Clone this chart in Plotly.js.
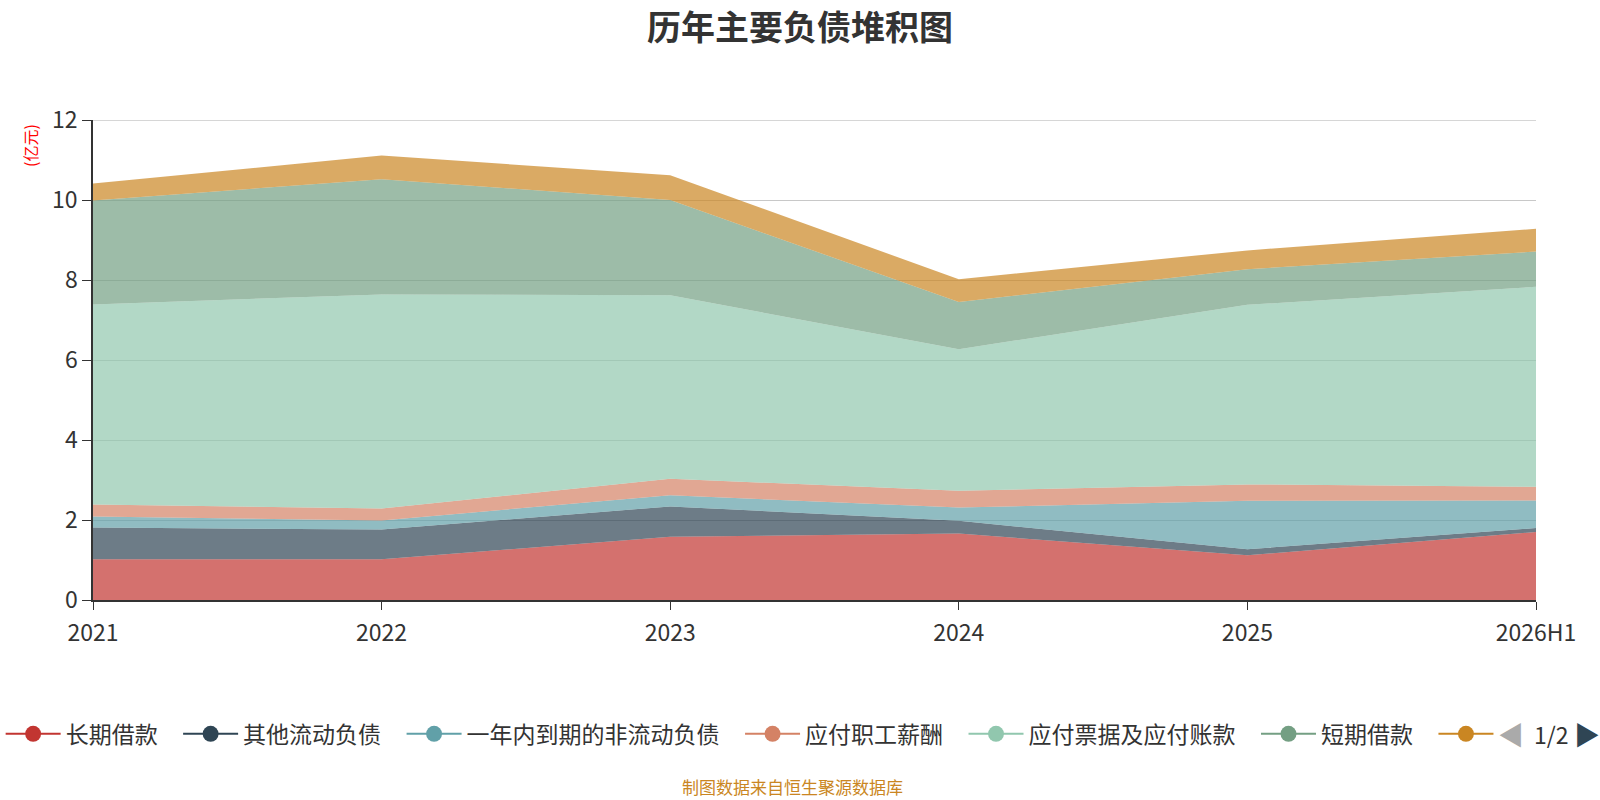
<!DOCTYPE html>
<html>
<head>
<meta charset="utf-8">
<script src="https://cdn.plot.ly/plotly-3.0.1.min.js"></script>
<style>
  html, body { margin: 0; padding: 0; background: #fff; }
  #chart { width: 1600px; height: 800px; }
</style>
</head>
<body>
<div id="chart"></div>
<script>
// 年份
var years = ['2021', '2022', '2023', '2024', '2025', '2026H1'];

// 各项负债（亿元），按堆积顺序
var changqiJiekuan    = [1.02, 1.02, 1.58, 1.66, 1.12, 1.70];
var qitaLiudong       = [0.79, 0.74, 0.76, 0.32, 0.15, 0.10];
var yinianDaoqi       = [0.28, 0.23, 0.28, 0.33, 1.21, 0.69];
var yingfuXinchou     = [0.30, 0.30, 0.41, 0.42, 0.41, 0.34];
var yingfuPiaoju      = [5.00, 5.35, 4.59, 3.54, 4.49, 5.00];
var duanqiJiekuan     = [2.60, 2.88, 2.38, 1.18, 0.89, 0.88];
var qitaFuzhai        = [0.42, 0.59, 0.62, 0.57, 0.47, 0.57];

var names = ['长期借款', '其他流动负债', '一年内到期的非流动负债', '应付职工薪酬',
             '应付票据及应付账款', '短期借款', ' '];
var colors = ['#c23531', '#2f4554', '#61a0a8', '#d48265', '#91c7ae', '#749f83', '#ca8622'];
var series = [changqiJiekuan, qitaLiudong, yinianDaoqi, yingfuXinchou,
              yingfuPiaoju, duanqiJiekuan, qitaFuzhai];

function fade(hex, a) {
  var r = parseInt(hex.slice(1, 3), 16), g = parseInt(hex.slice(3, 5), 16), b = parseInt(hex.slice(5, 7), 16);
  return 'rgba(' + r + ',' + g + ',' + b + ',' + a + ')';
}

var data = [];
// 面积
for (var i = 0; i < series.length; i++) {
  data.push({
    x: years,
    y: series[i],
    name: names[i],
    type: 'scatter',
    mode: 'lines',
    stackgroup: 'fz',
    line: { width: 0, color: colors[i] },
    fillcolor: fade(colors[i], 0.7),
    showlegend: false,
    hoverinfo: 'x+y+name'
  });
}
// 图例（名字后面补空格拉开间距）
for (var j = 0; j < series.length; j++) {
  data.push({
    x: [null],
    y: [null],
    name: names[j] + '\u00a0\u00a0\u00a0',
    type: 'scatter',
    mode: 'lines+markers',
    line: { width: 2, color: colors[j] },
    marker: { size: 22, color: colors[j] },
    showlegend: true
  });
}

var font = '"Noto Sans CJK SC", "Microsoft YaHei", sans-serif';

function note(text, x, y, size, color, extra) {
  var a = {
    text: text, xref: 'paper', yref: 'paper', x: x, y: y,
    xanchor: 'center', yanchor: 'middle',
    showarrow: false, font: { size: size, color: color, family: font }
  };
  for (var k in extra) a[k] = extra[k];
  return a;
}

var layout = {
  width: 1600,
  height: 800,
  margin: { l: 93, r: 64, t: 120, b: 200, autoexpand: false },
  paper_bgcolor: '#fff',
  plot_bgcolor: '#fff',
  font: { family: font, color: '#333' },
  title: {
    text: '<b>历年主要负债堆积图</b>',
    font: { size: 34, color: '#333', family: font },
    x: 0.5, xanchor: 'center',
    y: 0.965, yanchor: 'middle', yref: 'container'
  },
  xaxis: {
    type: 'category',
    range: [0, 5],
    showgrid: false,
    showline: true,
    linecolor: '#333',
    linewidth: 1.5,
    ticks: 'outside',
    ticklen: 8,
    tickcolor: '#333',
    ticklabelstandoff: 4,
    tickfont: { size: 23, color: '#333' },
    fixedrange: true
  },
  yaxis: {
    range: [0, 12],
    tickvals: [0, 2, 4, 6, 8, 10, 12],
    showgrid: true,
    gridcolor: '#c8c8c8',
    gridwidth: 1.3,
    zeroline: false,
    showline: true,
    linecolor: '#333',
    linewidth: 1.5,
    ticks: 'outside',
    ticklen: 9,
    tickcolor: '#333',
    tickfont: { size: 23, color: '#333' },
    layer: 'below traces',
    fixedrange: true
  },
  // 顶部 12 处的网格线
  shapes: [{
    type: 'line', xref: 'paper', yref: 'y', x0: 0, x1: 1, y0: 12, y1: 12,
    line: { color: '#c8c8c8', width: 1.3 }, layer: 'below'
  }],
  showlegend: true,
  legend: {
    orientation: 'h',
    traceorder: 'normal',
    x: -0.064, xanchor: 'left',
    y: -0.279, yanchor: 'middle',
    font: { size: 23, color: '#333', family: font },
    itemwidth: 55,
    itemclick: false,
    itemdoubleclick: false
  },
  annotations: [
    note('(亿元)', -0.0437, 0.948, 16, 'red', { textangle: -90 }),
    note('◀', 0.983, -0.279, 26, '#aaa'),
    note('1/2', 1.0104, -0.279, 23, '#333'),
    note('▶', 1.035, -0.279, 26, '#2f4554'),
    note('制图数据来自恒生聚源数据库', 0.485, -0.389, 17, '#ca8622')
  ]
};

Plotly.newPlot('chart', data, layout, { displayModeBar: false });
</script>
</body>
</html>
